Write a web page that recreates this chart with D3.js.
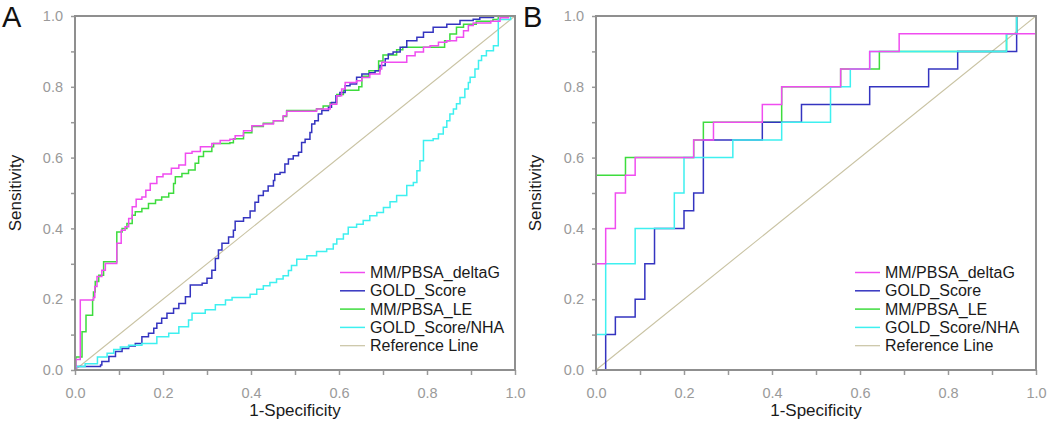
<!DOCTYPE html>
<html>
<head>
<meta charset="utf-8">
<script src="https://cdn.jsdelivr.net/npm/d3@7"></script>
<style>
  body { margin: 0; background: #fff; }
  svg { display: block; }
</style>
</head>
<body>
<svg id="canvas" width="1050" height="427"></svg>
<script>
window.addEventListener('DOMContentLoaded', () => {

// legend / series labels
const seriesNames = ['MM/PBSA_deltaG', 'GOLD_Score', 'MM/PBSA_LE', 'GOLD_Score/NHA', 'Reference Line']
const seriesColors = ['#f04cf0', '#3434c0', '#3ddc3d', '#3ef0f0', '#c9c3a3']
const tickValues = [0, 0.1, 0.2, 0.3, 0.4, 0.5, 0.6, 0.7, 0.8, 0.9, 1.0]

// panel A curves, [1-specificity, sensitivity]
const aDeltaG = [[0,0],[0.002,0.03],[0.012,0.198],[0.042,0.205],[0.045,0.236],[0.05,0.264],[0.061,0.282],[0.069,0.301],[0.095,0.358],[0.105,0.395],[0.114,0.405],[0.122,0.428],[0.13,0.461],[0.139,0.482],[0.152,0.489],[0.161,0.508],[0.171,0.527],[0.186,0.546],[0.2,0.554],[0.219,0.57],[0.236,0.579],[0.251,0.612],[0.266,0.617],[0.285,0.631],[0.311,0.64],[0.33,0.648],[0.352,0.652],[0.364,0.662],[0.383,0.676],[0.402,0.69],[0.428,0.695],[0.451,0.704],[0.473,0.718],[0.481,0.731],[0.549,0.737],[0.58,0.751],[0.595,0.775],[0.606,0.794],[0.614,0.812],[0.64,0.817],[0.652,0.826],[0.67,0.836],[0.693,0.85],[0.697,0.869],[0.754,0.888],[0.773,0.898],[0.792,0.912],[0.807,0.916],[0.826,0.926],[0.845,0.93],[0.867,0.94],[0.883,0.958],[0.894,0.973],[0.905,0.98],[0.945,0.985],[0.966,0.995],[0.985,1.0],[1,1]]
const aGold = [[0,0],[0.002,0.01],[0.058,0.014],[0.061,0.024],[0.077,0.038],[0.092,0.052],[0.107,0.061],[0.122,0.068],[0.137,0.075],[0.152,0.094],[0.167,0.104],[0.179,0.118],[0.186,0.132],[0.197,0.146],[0.209,0.16],[0.224,0.174],[0.236,0.188],[0.251,0.207],[0.262,0.24],[0.289,0.245],[0.3,0.259],[0.311,0.282],[0.319,0.315],[0.326,0.339],[0.334,0.358],[0.349,0.376],[0.36,0.395],[0.364,0.42],[0.383,0.43],[0.398,0.449],[0.409,0.474],[0.417,0.493],[0.428,0.506],[0.439,0.52],[0.451,0.535],[0.454,0.553],[0.466,0.558],[0.477,0.582],[0.485,0.596],[0.496,0.605],[0.508,0.615],[0.515,0.643],[0.523,0.652],[0.534,0.671],[0.538,0.695],[0.545,0.704],[0.553,0.723],[0.561,0.733],[0.576,0.742],[0.583,0.756],[0.593,0.775],[0.602,0.784],[0.614,0.803],[0.625,0.808],[0.64,0.827],[0.652,0.836],[0.67,0.84],[0.682,0.845],[0.693,0.86],[0.705,0.879],[0.712,0.893],[0.723,0.898],[0.739,0.912],[0.754,0.93],[0.777,0.94],[0.792,0.954],[0.814,0.968],[0.845,0.977],[0.875,0.987],[0.905,0.991],[0.92,0.996],[0.951,1.0],[1,1]]
const aLE = [[0,0],[0.002,0.037],[0.016,0.108],[0.025,0.155],[0.04,0.198],[0.042,0.22],[0.046,0.25],[0.054,0.268],[0.065,0.306],[0.095,0.39],[0.107,0.4],[0.118,0.414],[0.13,0.437],[0.137,0.447],[0.152,0.456],[0.167,0.47],[0.183,0.48],[0.197,0.489],[0.213,0.499],[0.224,0.527],[0.228,0.546],[0.243,0.555],[0.258,0.565],[0.273,0.584],[0.281,0.603],[0.292,0.617],[0.311,0.631],[0.315,0.64],[0.352,0.642],[0.36,0.653],[0.383,0.67],[0.402,0.688],[0.428,0.697],[0.451,0.704],[0.473,0.716],[0.481,0.733],[0.549,0.738],[0.564,0.746],[0.58,0.755],[0.595,0.778],[0.61,0.79],[0.645,0.8],[0.652,0.83],[0.668,0.845],[0.69,0.873],[0.7,0.89],[0.731,0.905],[0.745,0.912],[0.84,0.93],[0.852,0.949],[0.867,0.968],[0.883,0.977],[0.912,0.985],[0.95,0.99],[0.962,1.0],[1,1]]
const aNHA = [[0,0],[0.002,0.01],[0.023,0.018],[0.051,0.037],[0.073,0.047],[0.088,0.058],[0.103,0.065],[0.122,0.07],[0.152,0.075],[0.186,0.094],[0.213,0.104],[0.236,0.122],[0.258,0.141],[0.266,0.16],[0.296,0.17],[0.319,0.184],[0.342,0.198],[0.357,0.205],[0.398,0.214],[0.413,0.228],[0.428,0.238],[0.443,0.247],[0.458,0.257],[0.473,0.266],[0.485,0.281],[0.492,0.295],[0.504,0.313],[0.527,0.323],[0.549,0.335],[0.572,0.342],[0.587,0.356],[0.595,0.37],[0.61,0.384],[0.621,0.403],[0.64,0.412],[0.655,0.422],[0.67,0.436],[0.686,0.445],[0.701,0.459],[0.716,0.475],[0.731,0.493],[0.754,0.521],[0.769,0.53],[0.777,0.563],[0.784,0.591],[0.792,0.648],[0.814,0.653],[0.826,0.667],[0.837,0.686],[0.845,0.704],[0.852,0.723],[0.86,0.737],[0.867,0.752],[0.875,0.77],[0.886,0.794],[0.894,0.812],[0.898,0.827],[0.909,0.85],[0.917,0.874],[0.924,0.888],[0.935,0.902],[0.951,0.916],[0.962,0.99],[0.99,1.0],[1,1]]

// panel B curves
const bDeltaG = [[0,0],[0,0.3],[0.022,0.4],[0.044,0.5],[0.067,0.55],[0.089,0.6],[0.222,0.65],[0.267,0.7],[0.378,0.75],[0.422,0.8],[0.556,0.85],[0.622,0.9],[0.689,0.95],[1,1]]
const bGold = [[0,0],[0.022,0.1],[0.044,0.15],[0.089,0.2],[0.111,0.3],[0.133,0.4],[0.2,0.45],[0.222,0.5],[0.244,0.65],[0.378,0.7],[0.467,0.75],[0.622,0.8],[0.756,0.85],[0.822,0.9],[0.956,0.95],[0.956,1.0],[1,1]]
const bLE = [[0,0],[0,0.55],[0.067,0.6],[0.222,0.65],[0.244,0.7],[0.422,0.8],[0.556,0.85],[0.644,0.9],[0.933,0.95],[0.956,1.0],[1,1]]
const bNHA = [[0,0],[0,0.1],[0.022,0.3],[0.089,0.4],[0.178,0.5],[0.2,0.6],[0.311,0.65],[0.422,0.7],[0.533,0.8],[0.578,0.85],[0.622,0.9],[0.933,0.95],[0.956,1.0],[1,1]]
const refLine = [[0,0],[1,1]]

const font = "'Liberation Sans', Arial, Helvetica, sans-serif"
const top = 16, bottom = 370, plotW = 440

const panels = [
  { label: 'A', left: 75, labelX: 2, titleX: 15, legendX: 265, curves: [aDeltaG, aGold, aLE, aNHA] },
  { label: 'B', left: 596, labelX: 523, titleX: 535, legendX: 259, curves: [bDeltaG, bGold, bLE, bNHA] }
]
// draw order: green, blue, cyan, magenta
const drawOrder = [2, 1, 3, 0]

let svg = d3.select('#canvas')
svg.append('rect').attr('width', 1050).attr('height', 427).attr('fill', '#fff')

panels.forEach(p => {
  let x = d3.scaleLinear().domain([0, 1]).range([p.left, p.left + plotW])
  let y = d3.scaleLinear().domain([0, 1]).range([bottom, top])
  let g = svg.append('g')

  let fmt = d => (Math.round(d * 10) % 2 === 0) ? d3.format('.1f')(d) : ''

  let xAxis = g.append('g').attr('transform', `translate(0,${bottom})`)
    .call(d3.axisBottom(x).tickValues(tickValues).tickFormat(fmt).tickSize(5).tickPadding(13))
  let yAxis = g.append('g').attr('transform', `translate(${p.left},0)`)
    .call(d3.axisLeft(y).tickValues(tickValues).tickFormat(fmt).tickSize(4).tickPadding(8))
  ;[xAxis, yAxis].forEach(a => {
    a.select('.domain').remove()
    a.selectAll('line').attr('stroke', '#999').attr('stroke-width', 1.5)
    a.selectAll('text').attr('fill', '#9a9a9a').style('font-family', font).style('font-size', '14.5px')
  })

  // reference line
  let line = d3.line().x(d => x(d[0])).y(d => y(d[1]))
  g.append('path').datum(refLine).attr('d', line)
    .attr('fill', 'none').attr('stroke', seriesColors[4]).attr('stroke-width', 1.1)

  let stepLine = d3.line().x(d => x(d[0])).y(d => y(d[1])).curve(d3.curveStepAfter)
  drawOrder.forEach(i => {
    g.append('path').datum(p.curves[i]).attr('d', stepLine)
      .attr('fill', 'none').attr('stroke', seriesColors[i]).attr('stroke-width', 1.5)
  })

  // frame
  g.append('rect').attr('x', p.left).attr('y', top).attr('width', plotW).attr('height', bottom - top)
    .attr('fill', 'none').attr('stroke', '#8f8f8f').attr('stroke-width', 2)

  // legend
  seriesNames.forEach((name, i) => {
    let ly = 272.5 + i * 18.3
    let lx = p.left + p.legendX
    g.append('line').attr('x1', lx).attr('x2', lx + 25).attr('y1', ly).attr('y2', ly)
      .attr('stroke', seriesColors[i]).attr('stroke-width', i === 4 ? 1.2 : 1.5)
    g.append('text').attr('x', lx + 30).attr('y', ly).attr('dy', '0.35em')
      .style('font-family', font).style('font-size', '16px').attr('fill', '#1a1a1a')
      .text(name)
  })

  // axis titles
  g.append('text').attr('x', p.left + plotW / 2).attr('y', 416).attr('text-anchor', 'middle')
    .style('font-family', font).style('font-size', '17px').attr('fill', '#1a1a1a').text('1-Specificity')
  g.append('text').attr('transform', `translate(${p.titleX + 6},${(top + bottom) / 2}) rotate(-90)`)
    .attr('text-anchor', 'middle')
    .style('font-family', font).style('font-size', '17px').attr('fill', '#1a1a1a').text('Sensitivity')

  // panel letter
  g.append('text').attr('x', p.labelX).attr('y', 27)
    .style('font-family', font).style('font-size', '29px').attr('fill', '#111').text(p.label)
})

})
</script>
</body>
</html>
